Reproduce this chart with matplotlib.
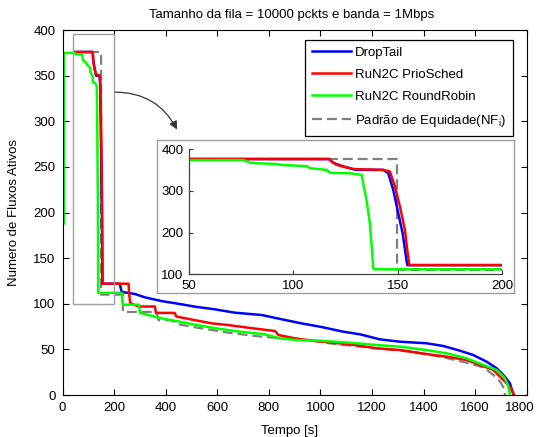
import matplotlib
matplotlib.use("Agg")
import matplotlib.pyplot as plt
from matplotlib.patches import Rectangle
from matplotlib.transforms import ScaledTranslation

plt.rcParams["font.family"] = ["Liberation Sans", "DejaVu Sans"]
plt.rcParams["mathtext.default"] = "regular"
plt.rcParams["font.size"] = 9.5

# DropTail
t_drop = [45, 117, 119, 124, 130, 143, 145.4, 147.8, 150.2, 152.3, 153.9, 154.5, 222, 229, 281, 320,
          384, 462, 514, 591, 669, 772, 850, 927, 998, 1089, 1154, 1231, 1309, 1412, 1477, 1541,
          1593, 1645, 1684, 1716, 1735, 1746, 1750]
n_drop = [376, 376, 367, 358, 350, 350, 342, 302, 246, 198, 142, 122, 122, 113, 110.7, 107,
          103, 99.4, 96.8, 93.9, 90.2, 87.7, 83, 78.5, 74.9, 69.4, 66.5, 61, 58.4, 56.7, 53.7, 48.6,
          43.8, 36.5, 29.2, 20, 12.8, 3, 0]

# RuN2C PrioSched
t_prio = [45, 117.2, 118.3, 120.7, 123.9, 128.7, 143, 146.2, 148.6, 151, 153.4, 154.5, 155.5, 256,
          258, 262, 294, 358, 362, 435, 441, 514, 579, 643, 708, 824, 837, 902, 979, 1115, 1218,
          1309, 1412, 1490, 1567, 1619, 1671, 1710, 1735, 1748, 1752]
n_prio = [376, 376, 370, 362, 358, 352, 350, 346, 310, 262, 206, 158, 122, 122,
          112, 101, 97, 97, 90, 90, 86, 82, 78.5, 76.7, 74.2, 70.1, 65.8, 62.1, 59.2, 55.5, 51.2,
          49.3, 44.9, 42, 38.4, 32.9, 27.4, 16.4, 9.1, 2, 0]

# RuN2C RoundRobin
t_rr = [5, 5, 48, 50, 76, 79.5, 84, 92, 95, 106.3, 108, 116, 117.5, 127, 132.7, 133.4, 135,
        136.6, 137.5, 138.2, 138.6, 229, 234, 296, 300, 384, 455, 520, 597, 688, 779, 844, 908,
        998, 1115, 1218, 1309, 1412, 1490, 1567, 1632, 1684, 1716, 1729, 1735]
n_rr = [188, 375, 375, 373.5, 373.5, 367, 365.7, 364, 361.7, 359, 354, 350, 343, 342, 338, 318, 278,
        222, 166, 116, 112, 112, 99, 99, 90, 84, 80.4, 76.7, 73, 69.4, 66.8, 62.1, 60.3,
        59.5, 57.3, 54.8, 53, 49.3, 45.7, 40.2, 32.9, 27.4, 18.3, 9.1, 0]

# Padrao de Equidade (NF_i)
t_nf = [45, 149.4, 149.4, 234, 234, 365, 372, 420, 450, 514, 643, 772, 850, 979, 1050, 1218,
        1348, 1477, 1567, 1632, 1671, 1697, 1712, 1716]
n_nf = [376, 376, 110, 110, 91, 91, 82, 82, 77.5, 74.2, 68.3, 63.9, 62.1, 59.2, 56, 51.2,
        47.5, 41.3, 35.4, 30.3, 21.9, 14.6, 7.3, 0]

labels = ["DropTail", "RuN2C PrioSched", "RuN2C RoundRobin", r"Padrão de Equidade(NF$_i$)"]
x_ticks = list(range(0, 1801, 200))
y_ticks = list(range(0, 401, 50))
zoom_xticks = [50, 100, 150, 200]
zoom_yticks = [100, 200, 300, 400]


def draw_series(ax):
    ax.plot(t_drop, n_drop, color="#0000ff", lw=1.8, label=labels[0])
    ax.plot(t_prio, n_prio, color="#ff0000", lw=1.8, label=labels[1])
    ax.plot(t_rr, n_rr, color="#00ff00", lw=1.8, label=labels[2])
    ax.plot(t_nf, n_nf, color="#808080", lw=1.6, dashes=(4.5, 2.2), label=labels[3], zorder=1.5)


fig = plt.figure(figsize=(5.39, 4.37), dpi=100)
ax = fig.add_axes([0.1161, 0.0961, 0.861, 0.835])
draw_series(ax)
ax.set_xlim(0, 1800)
ax.set_ylim(0, 400)
ax.set_xticks(x_ticks)
ax.set_yticks(y_ticks)
ax.tick_params(direction="in", top=True, right=True, length=4, width=0.8, pad=5)
for s in ax.spines.values():
    s.set_linewidth(0.8)

# keep the last tick label inside the image
last = ax.get_xticklabels()[-1]
last.set_transform(last.get_transform() + ScaledTranslation(-5 / 72, 0, fig.dpi_scale_trans))

ax.set_xlabel("Tempo [s]")
ax.xaxis.set_label_coords(0.49, -0.099)
ax.xaxis.label.set_verticalalignment("center")
ax.set_ylabel("Numero de Fluxos Ativos")
ax.yaxis.set_label_coords(-0.105, 0.5)
ax.yaxis.label.set_verticalalignment("center")
fig.text(0.541, 0.966, "Tamanho da fila = 10000 pckts e banda = 1Mbps", ha="center", va="center")

leg = ax.legend(loc="upper right", bbox_to_anchor=(0.970, 0.973), borderaxespad=0,
                fancybox=False, edgecolor="black", framealpha=1, handlelength=3.0,
                handletextpad=0.3, labelspacing=0.75, borderpad=0.5)
leg.get_frame().set_linewidth(0.9)

# zoom box on the main plot
ax.add_patch(Rectangle((40, 100), 160, 296, fill=False, edgecolor="#a0a0a0", lw=1.0, zorder=3))
ax.annotate("", xy=(444, 291), xytext=(203, 332),
            arrowprops=dict(arrowstyle="-|>", color="#333333", lw=0.9,
                            connectionstyle="arc3,rad=-0.3", mutation_scale=12,
                            shrinkA=0, shrinkB=0))

# frame behind the inset
frame = fig.add_axes([0.2907, 0.3288, 0.6629, 0.3508])
frame.set_xticks([])
frame.set_yticks([])
for s in frame.spines.values():
    s.set_edgecolor("#a0a0a0")
    s.set_linewidth(1.0)

axin = fig.add_axes([0.3506, 0.3723, 0.5813, 0.2867])
draw_series(axin)
axin.set_xlim(50, 200)
axin.set_ylim(100, 400)
axin.set_xticks(zoom_xticks)
axin.set_yticks(zoom_yticks)
axin.spines["top"].set_visible(False)
axin.spines["right"].set_visible(False)
for s in ("left", "bottom"):
    axin.spines[s].set_color("#404040")
    axin.spines[s].set_linewidth(0.9)
axin.tick_params(direction="in", length=3, width=0.8, color="#404040", pad=4)

fig.savefig("out.png", dpi=100)
